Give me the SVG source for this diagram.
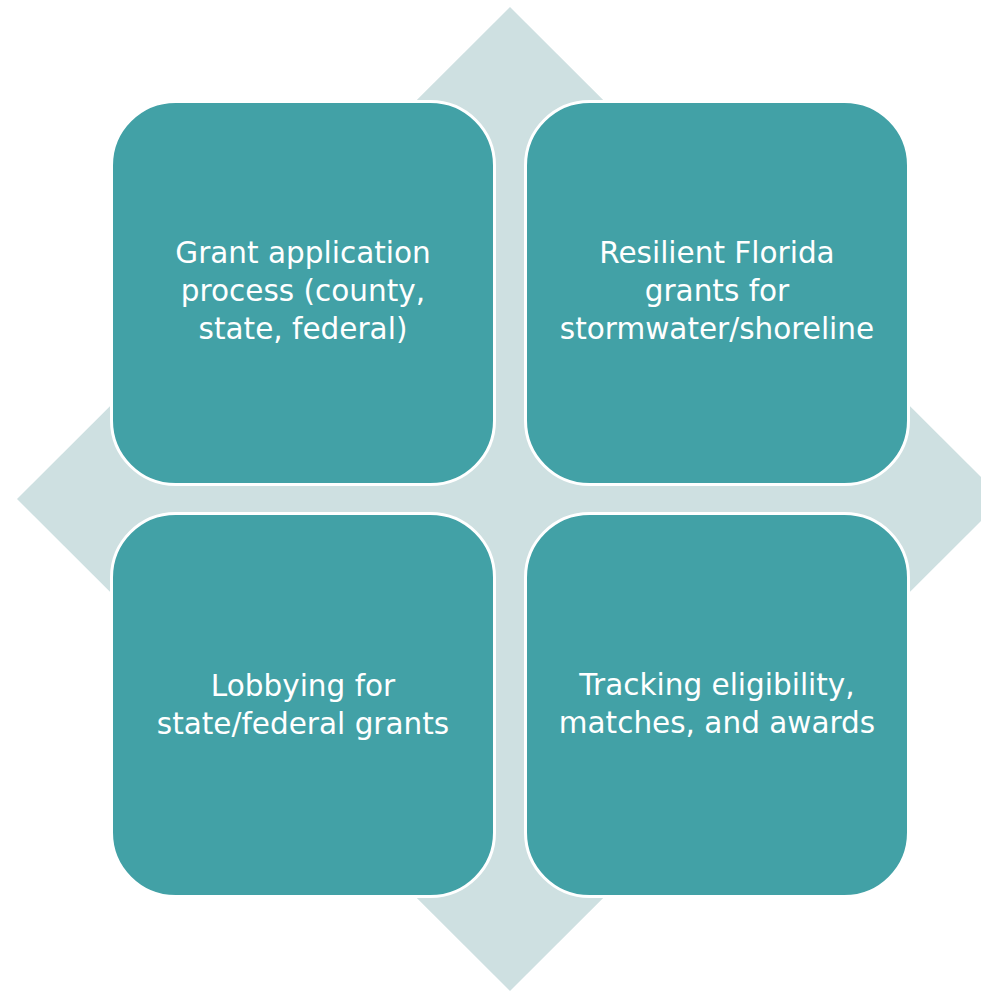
<svg xmlns="http://www.w3.org/2000/svg" width="981" height="991" viewBox="0 0 981 991">
  <style>
    .tile { fill: #42A1A6; stroke: #FFFFFF; stroke-width: 3; }
    .label { fill: #FFFFFF; font-family: "DejaVu Sans", "Liberation Sans", sans-serif; font-size: 29.5px; text-anchor: middle; }
  </style>
  <rect width="981" height="991" fill="#FFFFFF"/>
  <!-- background diamond behind the matrix -->
  <polygon id="diamond" points="510,7 1003,499 510,991 17,499" fill="#CEE0E1"/>
  <g id="nodes">
    <g id="node-grant-process">
      <rect class="tile" x="111.5" y="101.5" width="383" height="383" rx="64" ry="64"/>
      <text class="label" x="303" y="263">Grant application</text>
      <text class="label" x="303" y="301">process (county,</text>
      <text class="label" x="303" y="339">state, federal)</text>
    </g>
    <g id="node-resilient-florida">
      <rect class="tile" x="525.5" y="101.5" width="383" height="383" rx="64" ry="64"/>
      <text class="label" x="717" y="263">Resilient Florida</text>
      <text class="label" x="717" y="301">grants for</text>
      <text class="label" x="717" y="339">stormwater/shoreline</text>
    </g>
    <g id="node-lobbying">
      <rect class="tile" x="111.5" y="513.5" width="383" height="383" rx="64" ry="64"/>
      <text class="label" x="303" y="696">Lobbying for</text>
      <text class="label" x="303" y="734">state/federal grants</text>
    </g>
    <g id="node-tracking">
      <rect class="tile" x="525.5" y="513.5" width="383" height="383" rx="64" ry="64"/>
      <text class="label" x="717" y="695">Tracking eligibility,</text>
      <text class="label" x="717" y="733">matches, and awards</text>
    </g>
  </g>
  <g id="connectors"/>
</svg>
